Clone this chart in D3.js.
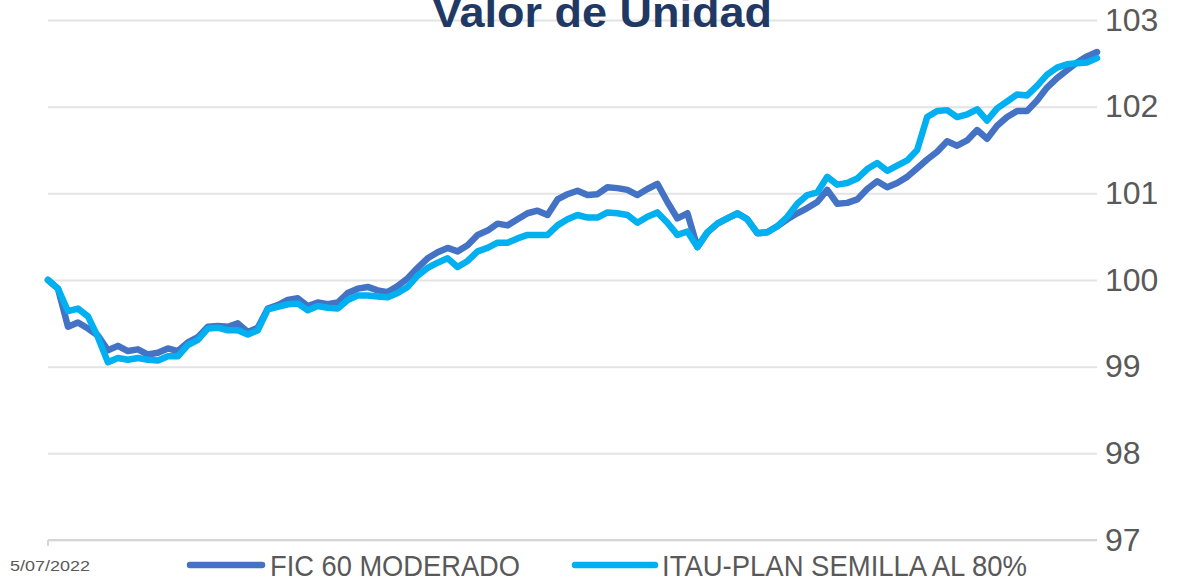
<!DOCTYPE html>
<html>
<head>
<meta charset="utf-8">
<script src="https://cdn.jsdelivr.net/npm/d3@7"></script>
<style>
  html, body { margin: 0; padding: 0; background: #ffffff; }
  svg { display: block; }
</style>
</head>
<body>
<svg id="chart" width="1181" height="582"></svg>
<script>
// ---------- DATA ----------
const title = "Valor de Unidad";
const seriesNames = ["FIC 60 MODERADO", "ITAU-PLAN SEMILLA AL 80%"];
const seriesColors = ["#4472C4", "#00B0F0"];
const xTickLabels = ["5/07/2022"];
const yTicks = [97, 98, 99, 100, 101, 102, 103];

const fic60 = [
  100.00, 99.90, 99.46, 99.51, 99.44, 99.36, 99.19, 99.24, 99.18, 99.20,
  99.14, 99.16, 99.21, 99.18, 99.28, 99.34, 99.46, 99.47, 99.46, 99.50,
  99.40, 99.45, 99.67, 99.71, 99.77, 99.79, 99.70, 99.74, 99.72, 99.74,
  99.85, 99.90, 99.92, 99.88, 99.86, 99.93, 100.02, 100.14, 100.25, 100.32,
  100.37, 100.33, 100.40, 100.52, 100.57, 100.65, 100.63, 100.70, 100.77, 100.80,
  100.75, 100.93, 100.99, 101.03, 100.98, 100.99, 101.07, 101.06, 101.04, 100.98,
  101.05, 101.11, 100.90, 100.71, 100.77, 100.38, 100.55, 100.65, 100.71, 100.77,
  100.70, 100.54, 100.55, 100.62, 100.70, 100.77, 100.83, 100.90, 101.04, 100.88,
  100.89, 100.93, 101.05, 101.14, 101.07, 101.12, 101.19, 101.29, 101.39, 101.48,
  101.60, 101.55, 101.61, 101.73, 101.63, 101.78, 101.88, 101.95, 101.95, 102.07,
  102.22, 102.33, 102.42, 102.51, 102.58, 102.63
];
const itauSemilla = [
  100.00, 99.90, 99.64, 99.67, 99.58, 99.34, 99.05, 99.10, 99.08, 99.10,
  99.08, 99.07, 99.12, 99.12, 99.25, 99.31, 99.44, 99.45, 99.42, 99.42,
  99.37, 99.42, 99.66, 99.69, 99.72, 99.73, 99.65, 99.70, 99.68, 99.67,
  99.77, 99.82, 99.82, 99.81, 99.80, 99.85, 99.92, 100.05, 100.14, 100.20,
  100.25, 100.15, 100.22, 100.33, 100.37, 100.43, 100.43, 100.48, 100.52, 100.52,
  100.52, 100.63, 100.70, 100.75, 100.72, 100.72, 100.78, 100.77, 100.75, 100.66,
  100.73, 100.78, 100.66, 100.52, 100.56, 100.38, 100.55, 100.65, 100.71, 100.77,
  100.70, 100.54, 100.55, 100.62, 100.73, 100.88, 100.98, 101.01, 101.19, 101.10,
  101.12, 101.17, 101.28, 101.35, 101.26, 101.32, 101.38, 101.50, 101.88, 101.95,
  101.96, 101.88, 101.91, 101.97, 101.84, 101.98, 102.06, 102.14, 102.13, 102.24,
  102.37, 102.45, 102.49, 102.50, 102.51, 102.56
];

// ---------- LAYOUT ----------
const svg = d3.select("#chart");
const plot = { left: 48, right: 1097, top: 20, bottom: 540 };

const x = d3.scaleLinear().domain([0, fic60.length - 1]).range([plot.left, plot.right]);
const y = d3.scaleLinear().domain([97, 103]).range([plot.bottom, plot.top]);

// gridlines
const grid = svg.append("g")
  .attr("transform", `translate(${plot.left},0)`)
  .call(d3.axisRight(y).tickValues(yTicks).tickSize(plot.right - plot.left).tickFormat(""));
grid.select(".domain").remove();
grid.selectAll("line").attr("stroke", "#e3e3e3").attr("stroke-width", 2);

// bottom axis line (97 baseline) slightly darker with start tick
svg.append("line")
  .attr("x1", plot.left).attr("x2", plot.right)
  .attr("y1", y(97)).attr("y2", y(97))
  .attr("stroke", "#d6d6d6").attr("stroke-width", 2);
svg.append("line")
  .attr("x1", plot.left).attr("x2", plot.left)
  .attr("y1", y(97)).attr("y2", y(97) + 6)
  .attr("stroke", "#d6d6d6").attr("stroke-width", 2);

// right y-axis labels
const yAxis = svg.append("g")
  .attr("transform", `translate(${plot.right + 8},0)`)
  .call(d3.axisRight(y).tickValues(yTicks).tickSize(0).tickPadding(0).tickFormat(d3.format("d")));
yAxis.select(".domain").remove();
yAxis.selectAll("text")
  .attr("fill", "#595959")
  .style("font-family", "'Liberation Sans', Arial, sans-serif")
  .style("font-size", "32px");

// x tick label (first date)
svg.append("text")
  .attr("x", 10).attr("y", 571)
  .attr("fill", "#595959")
  .attr("textLength", 80)
  .attr("lengthAdjust", "spacingAndGlyphs")
  .style("font-family", "'Liberation Sans', Arial, sans-serif")
  .style("font-size", "14px")
  .text(xTickLabels[0]);

// lines
const line = d3.line().x((d, i) => x(i)).y(d => y(d));
[fic60, itauSemilla].forEach((s, k) => {
  svg.append("path")
    .datum(s)
    .attr("d", line)
    .attr("fill", "none")
    .attr("stroke", seriesColors[k])
    .attr("stroke-width", 6.5)
    .attr("stroke-linejoin", "round")
    .attr("stroke-linecap", "round");
});

// title (partially cut off at top, as in the reference)
svg.append("text")
  .attr("x", 602).attr("y", 27)
  .attr("text-anchor", "middle")
  .attr("fill", "#1F3864")
  .attr("font-weight", "bold")
  .attr("textLength", 340)
  .attr("lengthAdjust", "spacingAndGlyphs")
  .style("font-family", "'Liberation Sans', Arial, sans-serif")
  .style("font-size", "42px")
  .text(title);

// legend
const legend = [
  { x1: 190, x2: 262, tx: 270, tw: 250 },
  { x1: 575, x2: 655, tx: 662, tw: 365 }
];
legend.forEach((L, k) => {
  svg.append("line")
    .attr("x1", L.x1).attr("x2", L.x2)
    .attr("y1", 565).attr("y2", 565)
    .attr("stroke", seriesColors[k])
    .attr("stroke-width", 6.5)
    .attr("stroke-linecap", "round");
  svg.append("text")
    .attr("x", L.tx).attr("y", 576)
    .attr("fill", "#595959")
    .attr("textLength", L.tw)
    .attr("lengthAdjust", "spacingAndGlyphs")
    .style("font-family", "'Liberation Sans', Arial, sans-serif")
    .style("font-size", "30px")
    .text(seriesNames[k]);
});
</script>
</body>
</html>
